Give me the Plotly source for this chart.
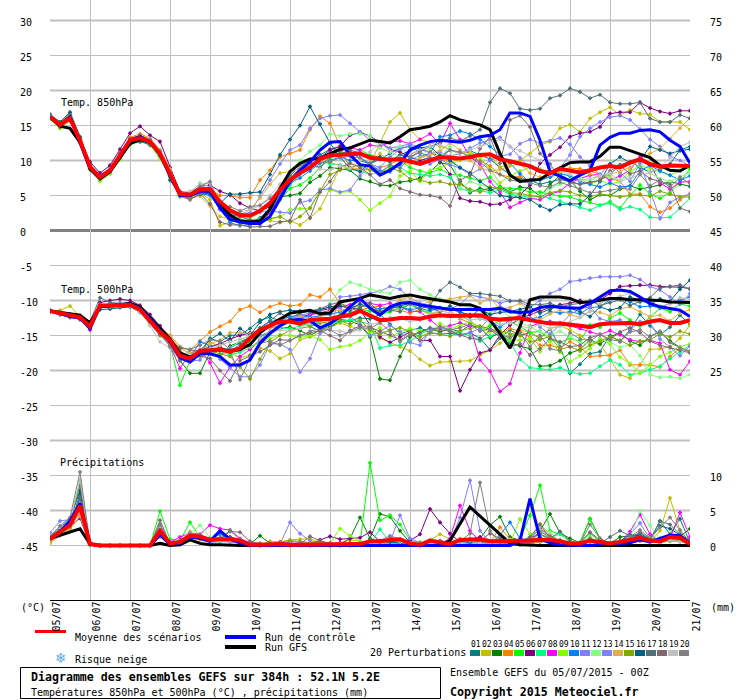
import plotly.graph_objects as go

# one value every 6h, 65 points over 384h
HOURS = list(range(0, 385, 6))

DATE_LABELS = ["05/07", "06/07", "07/07", "08/07", "09/07", "10/07", "11/07", "12/07", "13/07",
               "14/07", "15/07", "16/07", "17/07", "18/07", "19/07", "20/07", "21/07"]
LEFT_TICKS = [30, 25, 20, 15, 10, 5, 0, -5, -10, -15, -20, -25, -30, -35, -40, -45]
RIGHT_TICKS = [75, 70, 65, 60, 55, 50, 45, 40, 35, 30, 25, 10, 5, 0]
MEMBER_IDS = ["01", "02", "03", "04", "05", "06", "07", "08", "09", "10",
              "11", "12", "13", "14", "15", "16", "17", "18", "19", "20"]
MEMBER_COLORS = ["#008080", "#c0c000", "#008000", "#ff8000", "#00ff00", "#800080", "#00ff80", "#ff00ff",
                 "#80ff00", "#0080ff", "#8080ff", "#80ff80", "#8080ff", "#e0b040", "#80a800", "#006080",
                 "#507078", "#806870", "#c0c0c0", "#808080"]

T850_MEAN = [16.2, 15.1, 16.0, 12.9, 9.1, 7.6, 8.6, 10.8, 12.9, 13.2, 12.7, 11.0, 8.2, 5.2, 5.1, 5.9, 5.9,
             4.1, 2.9, 2.2, 2.1, 2.8, 3.9, 5.8, 7.2, 8.2, 9.0, 10.2, 10.7, 10.8, 10.9, 11.0, 10.4, 10.2, 10.1,
             10.2, 9.8, 9.5, 10.0, 10.5, 10.4, 10.3, 10.5, 10.8, 10.9, 10.2, 9.9, 9.6, 9.2, 8.5, 8.2, 8.8, 8.6,
             8.3, 8.6, 9.0, 9.2, 9.0, 9.7, 10.2, 9.5, 9.1, 9.3, 9.3, 9.2]
T850_CTRL = [16.2, 15.0, 16.2, 12.7, 9.0, 7.5, 8.5, 10.6, 12.9, 13.4, 12.7, 10.8, 8.0, 5.0, 5.0, 5.6, 5.6,
             3.2, 1.6, 1.2, 1.0, 1.0, 2.0, 4.5, 7.0, 8.6, 9.8, 11.5, 12.6, 12.7, 10.8, 9.4, 9.2, 7.9, 8.6,
             9.6, 11.5, 12.2, 12.7, 12.9, 12.7, 12.6, 12.9, 13.4, 13.6, 14.4, 16.8, 16.8, 16.3, 12.9, 8.4, 7.7, 7.1,
             7.9, 8.6, 12.2, 13.3, 13.9, 13.9, 14.3, 14.4, 14.1, 12.9, 12.0, 9.6]
T850_GFS = [16.2, 14.9, 14.6, 12.6, 8.8, 7.4, 8.4, 10.4, 12.4, 13.0, 12.7, 10.9, 8.0, 5.1, 5.0, 5.7, 5.7,
            3.8, 2.2, 1.4, 1.2, 1.4, 3.0, 6.0, 8.4, 9.6, 10.2, 10.3, 11.0, 11.6, 11.8, 12.3, 12.9, 12.7, 12.5,
            13.4, 14.4, 14.6, 14.9, 15.5, 16.4, 15.8, 15.4, 15.1, 14.4, 11.0, 7.9, 7.0, 7.2, 7.3, 8.2, 9.0, 9.7,
            9.8, 9.8, 10.6, 11.9, 11.9, 11.4, 10.9, 10.4, 9.3, 8.6, 8.5, 9.3]

T850_P01 = [16.4, 15.3, 16.6, 13.1, 9.2, 7.7, 8.7, 10.9, 13.2, 13.5, 12.8, 11.2, 8.3, 5.3, 5.2, 6.0, 5.8,
            3.4, 1.8, 1.3, 1.2, 1.8, 3.2, 5.5, 7.8, 9.2, 9.9, 10.8, 11.6,
            12.0, 11.2, 10.4, 9.5, 10.2, 11.0, 11.8, 12.0, 11.6, 11.2, 10.6, 11.5,
            11.0, 11.4, 10.8, 10.2, 9.0, 8.0, 7.4, 7.2, 6.6, 6.9, 7.3, 7.0,
            6.6, 6.8, 7.2, 8.0, 9.4, 9.8, 9.0, 8.3, 8.7, 9.5, 11.5, 12.0]
T850_P02 = [16.3, 15.2, 16.3, 12.7, 9.3, 7.6, 8.8, 11.0, 13.0, 13.5, 13.0, 11.1, 8.6, 5.4, 4.8, 5.4, 4.4,
            0.7, 1.2, 1.4, 1.6, 1.6, 1.4, 1.2, 1.4, 0.8, 1.8, 3.1, 6.0,
            9.0, 9.6, 9.2, 9.5, 12.5, 15.5, 16.8, 14.4, 13.0, 12.6, 12.0, 11.6,
            11.0, 11.2, 10.5, 10.8, 9.0, 9.6, 10.0, 11.0, 12.2, 12.7, 14.6, 15.1,
            14.1, 16.0, 16.9, 17.6, 16.5, 17.2, 16.7, 16.6, 15.5, 15.5, 15.5, 14.4]
T850_P03 = [16.1, 14.9, 15.9, 12.6, 8.9, 7.5, 8.4, 10.5, 12.8, 13.1, 12.6, 10.7, 8.1, 5.0, 4.9, 5.5, 5.4,
            3.2, 1.5, 1.1, 1.0, 1.2, 2.6, 4.8, 5.0, 5.3, 6.9, 7.8, 9.0,
            8.8, 8.6, 7.4, 7.0, 6.5, 6.4, 6.9, 7.1, 7.5, 8.4, 9.7, 9.4,
            7.0, 5.4, 6.0, 5.7, 6.3, 5.5, 6.2, 6.0, 4.9, 6.5, 7.9, 7.2,
            5.6, 4.4, 5.1, 5.0, 5.9, 6.4, 5.9, 6.2, 6.5, 7.0, 6.6, 6.3]
T850_P04 = [16.5, 15.4, 16.8, 13.0, 9.3, 7.8, 8.7, 11.0, 13.3, 13.8, 13.2, 11.5, 8.9, 5.6, 5.4, 6.1, 5.9,
            5.0, 5.0, 4.7, 4.7, 7.2, 8.6, 10.5, 11.0, 11.5, 14.4, 16.3, 15.3,
            12.0, 8.8, 8.7, 8.7, 9.0, 9.4, 10.2, 10.8, 11.5, 11.2, 10.2, 9.8,
            10.2, 10.4, 10.0, 9.2, 8.0, 7.6, 7.7, 7.0, 7.4, 7.6, 8.6, 8.9,
            8.8, 8.5, 8.0, 7.6, 7.0, 5.2, 5.2, 3.4, 2.6, 3.2, 4.4, 5.3]
T850_P05 = [16.0, 14.8, 15.8, 12.5, 8.7, 7.2, 8.2, 10.3, 12.4, 12.9, 12.3, 10.5, 7.6, 5.0, 4.8, 5.8, 5.6,
            3.4, 1.9, 1.2, 0.9, 1.0, 2.5, 4.4, 6.0, 6.5, 7.5, 9.0, 10.2,
            11.2, 11.0, 11.5, 10.8, 10.5, 10.2, 10.0, 9.0, 8.5, 8.2, 8.8, 8.0,
            7.9, 7.5, 7.1, 7.6, 6.2, 6.0, 5.9, 5.5, 5.5, 5.2, 4.9, 4.8,
            4.3, 4.0, 3.6, 4.1, 3.2, 5.0, 6.5, 5.2, 4.6, 5.4, 6.9, 8.8]
T850_P06 = [16.4, 15.4, 16.5, 13.2, 9.8, 8.2, 9.3, 11.6, 13.9, 14.9, 13.6, 12.7, 9.0, 5.5, 5.4, 6.3, 6.5,
            5.6, 5.1, 3.9, 3.2, 2.8, 3.4, 5.3, 7.0, 8.2, 9.0, 10.4, 11.5,
            12.0, 13.6, 14.0, 13.5, 12.5, 11.6, 11.2, 10.5, 10.0, 10.4, 10.0, 8.0,
            4.6, 4.2, 4.1, 3.7, 3.8, 4.4, 5.1, 6.5, 9.6, 10.8, 11.9, 13.4,
            13.9, 14.1, 14.8, 16.7, 16.9, 16.9, 18.3, 17.5, 17.0, 16.7, 17.1, 17.1]
T850_P07 = [16.2, 15.0, 16.1, 12.8, 9.1, 7.4, 8.5, 10.6, 12.7, 13.0, 12.5, 10.9, 8.0, 5.1, 5.1, 6.0, 6.0,
            3.6, 2.0, 1.4, 1.2, 1.6, 3.0, 5.0, 6.5, 8.0, 9.5, 10.0, 9.5,
            9.4, 8.8, 8.5, 8.0, 8.4, 9.2, 9.0, 8.2, 8.0, 7.8, 8.0, 7.6,
            6.0, 5.6, 5.7, 5.4, 5.8, 5.2, 5.0, 4.7, 5.0, 4.6, 4.2, 3.8,
            3.3, 2.9, 3.6, 3.9, 3.0, 3.4, 3.0, 1.9, 1.8, 1.9, 3.2, 4.6]
T850_P08 = [16.1, 14.9, 15.7, 12.7, 8.8, 7.2, 8.2, 10.2, 12.3, 12.8, 12.4, 10.6, 7.9, 5.1, 4.9, 5.5, 5.2,
            3.1, 1.8, 1.3, 1.0, 1.2, 2.5, 5.0, 7.0, 9.0, 9.8, 10.5, 11.0,
            11.4, 11.8, 11.5, 12.2, 12.0, 12.6, 12.8, 12.4, 13.0, 13.8, 12.4, 15.3,
            13.0, 10.5, 9.5, 7.0, 5.5, 3.3, 4.0, 4.6, 4.4, 5.2, 5.6, 6.8,
            7.4, 7.9, 8.0, 7.2, 7.8, 8.6, 10.5, 9.5, 6.8, 5.9, 6.9, 7.0]
T850_P09 = [15.9, 14.6, 15.7, 12.6, 8.8, 7.0, 8.1, 10.1, 12.2, 12.7, 12.2, 10.2, 7.8, 4.8, 5.0, 5.9, 5.8,
            3.4, 1.9, 1.4, 1.2, 1.4, 1.6, 1.9, 3.0, 3.1, 3.2, 5.9, 5.8,
            5.4, 5.6, 4.4, 2.9, 3.9, 4.9, 7.8, 8.5, 7.0, 8.6, 9.0, 9.5,
            10.0, 11.0, 10.5, 8.7, 6.8, 7.8, 8.5, 9.0, 8.8, 8.5, 8.2, 7.8,
            7.4, 6.6, 7.2, 6.6, 7.0, 8.5, 9.2, 8.9, 8.4, 7.9, 8.6, 9.2]
T850_P10 = [16.3, 15.1, 16.2, 13.0, 9.0, 7.6, 8.6, 10.7, 13.0, 13.2, 12.6, 11.0, 8.4, 5.2, 5.0, 5.3, 5.0,
            3.0, 1.1, 0.7, 0.8, 1.1, 2.8, 5.3, 6.8, 7.5, 8.5, 9.6, 10.0,
            10.5, 10.0, 10.0, 9.5, 8.5, 8.4, 9.4, 10.2, 10.6, 11.0, 13.4, 13.6,
            14.2, 13.8, 13.0, 12.0, 10.8, 9.6, 8.1, 6.9, 7.2, 7.6, 8.1, 7.8,
            7.0, 6.6, 6.2, 6.8, 6.2, 6.4, 8.5, 9.3, 8.5, 7.9, 7.2, 7.8]
T850_P11 = [16.2, 15.2, 16.4, 12.9, 9.2, 7.7, 8.8, 10.9, 13.0, 13.4, 13.0, 11.3, 8.5, 5.3, 5.3, 6.2, 6.1,
            3.4, 2.6, 2.0, 2.5, 4.9, 7.2, 9.5, 11.5, 12.2, 14.6, 16.0, 16.4,
            16.5, 15.3, 14.1, 12.9, 12.5, 11.8, 12.0, 12.4, 11.8, 11.0, 11.2, 10.6,
            11.0, 11.8, 12.5, 12.9, 13.3, 12.0, 10.4, 9.0, 8.6, 8.4, 8.9, 10.8,
            13.4, 14.6, 15.5, 16.2, 16.4, 15.8, 14.5, 13.0, 12.0, 10.6, 10.0, 9.2]
T850_P12 = [16.0, 14.9, 16.0, 12.8, 9.0, 7.3, 8.4, 10.4, 12.6, 13.1, 12.5, 10.4, 7.7, 4.9, 5.3, 6.8, 6.2,
            3.4, 1.8, 1.6, 1.7, 2.6, 3.0, 6.0, 8.5, 10.0, 11.3, 12.2, 13.8,
            13.5, 13.8, 13.8, 13.5, 11.8, 11.2, 12.0, 10.5, 10.4, 11.8, 10.4, 12.0,
            5.9, 7.0, 6.5, 6.2, 6.0, 5.5, 4.6, 4.8, 5.0, 6.0, 6.6, 7.2,
            7.5, 7.0, 8.0, 7.6, 7.2, 7.9, 9.8, 8.2, 7.4, 7.0, 7.7, 8.3]
T850_P13 = [16.3, 15.2, 16.2, 13.0, 9.1, 7.6, 8.5, 10.6, 12.9, 13.3, 12.9, 11.2, 8.3, 5.3, 5.2, 6.1, 6.2,
            3.0, 2.4, 2.4, 2.5, 2.6, 2.8, 2.6, 2.5, 4.0, 4.3, 5.8, 6.0,
            5.5, 5.8, 7.8, 9.5, 9.0, 10.5, 11.6, 12.2, 11.0, 9.5, 10.2, 9.4,
            8.9, 8.0, 8.8, 10.0, 10.6, 10.9, 12.4, 13.0, 12.5, 12.8, 13.2, 12.3,
            10.5, 9.2, 8.0, 9.5, 8.2, 7.0, 9.6, 5.6, 1.7, 4.0, 4.8, 5.2]
T850_P14 = [16.5, 15.5, 16.6, 13.2, 9.2, 7.8, 8.6, 10.7, 12.9, 13.6, 13.1, 11.3, 8.8, 5.2, 4.6, 4.9, 3.5,
            2.0, 1.6, 2.0, 3.0, 4.6, 6.6, 8.2, 8.4, 8.8, 9.4, 10.0, 9.8,
            9.2, 9.0, 8.8, 9.4, 11.0, 10.0, 9.8, 9.5, 10.4, 10.8, 11.4, 12.5,
            11.5, 10.0, 9.0, 8.5, 8.7, 9.2, 9.5, 8.2, 7.6, 8.0, 8.4, 8.8,
            8.4, 8.1, 7.5, 8.0, 8.4, 9.0, 10.0, 11.0, 11.7, 13.1, 14.6, 16.1]
T850_P15 = [16.1, 14.7, 16.1, 12.5, 8.9, 7.4, 8.3, 10.4, 12.7, 13.0, 12.4, 10.6, 7.9, 5.0, 4.7, 5.6, 5.5,
            3.5, 1.9, 1.0, 0.9, 1.0, 1.7, 2.0, 1.2, 2.0, 3.2, 5.5, 8.0,
            8.6, 9.0, 9.4, 8.6, 8.2, 8.9, 8.5, 7.4, 7.2, 6.8, 7.0, 6.6,
            6.6, 5.9, 5.5, 6.2, 6.0, 5.4, 5.3, 5.0, 4.8, 5.4, 5.7, 5.5,
            5.0, 4.8, 5.2, 5.0, 4.8, 5.0, 5.1, 4.9, 5.6, 5.2, 4.8, 4.8]
T850_P16 = [16.6, 15.5, 16.9, 13.4, 9.4, 7.9, 8.9, 11.0, 12.6, 12.7, 12.4, 11.1, 7.2, 5.1, 4.5, 5.2, 5.3,
            3.9, 5.2, 5.2, 5.4, 5.5, 8.0, 10.8, 13.0, 15.0, 17.7, 15.2, 12.5,
            10.5, 8.9, 8.4, 9.6, 10.5, 9.9, 10.8, 11.4, 11.8, 12.0, 10.7, 10.0,
            9.0, 8.2, 7.0, 6.0, 5.0, 4.8, 4.7, 4.4, 3.5, 2.9, 3.7, 3.8,
            3.8, 5.0, 7.0, 9.5, 10.5, 9.7, 10.0, 12.0, 11.5, 11.0, 11.4, 11.6]
T850_P17 = [16.4, 15.3, 16.5, 13.1, 9.0, 7.5, 8.6, 10.8, 12.4, 12.8, 12.2, 10.8, 8.0, 5.2, 5.1, 5.7, 5.7,
            3.4, 2.3, 2.0, 1.5, 1.0, 3.0, 5.5, 7.0, 8.5, 9.5, 9.0, 10.6,
            10.9, 11.5, 11.0, 10.5, 10.2, 9.8, 10.8, 10.5, 11.3, 12.0, 12.5, 13.2,
            12.8, 13.5, 14.4, 18.3, 20.3, 19.6, 17.4, 17.2, 17.4, 18.9, 19.3, 20.3,
            19.8, 18.9, 19.4, 18.3, 18.1, 18.1, 18.3, 16.0, 15.5, 15.5, 16.5, 16.0]
T850_P18 = [16.3, 15.0, 16.3, 12.9, 8.9, 7.6, 8.7, 10.7, 13.1, 13.6, 12.9, 11.2, 8.0, 4.9, 4.4, 5.3, 3.8,
            1.2, 0.8, 0.8, 0.5, 0.6, 0.6, 1.2, 1.4, 4.4, 1.8, 5.5, 7.0,
            9.0, 9.6, 9.0, 8.0, 6.6, 7.2, 6.0, 5.5, 5.1, 5.0, 4.7, 3.5,
            7.2, 7.9, 11.7, 13.4, 9.6, 15.8, 16.4, 14.8, 11.0, 9.5, 7.4, 6.9,
            6.6, 6.9, 7.2, 8.5, 9.3, 8.1, 8.5, 7.4, 7.0, 6.6, 3.2, 2.7]
T850_P19 = [16.2, 15.1, 16.1, 12.8, 9.2, 7.7, 8.8, 10.9, 12.7, 13.2, 13.1, 11.4, 8.6, 5.4, 5.6, 6.6, 6.8,
            3.6, 2.6, 2.6, 3.0, 3.5, 5.0, 6.6, 8.2, 9.0, 9.4, 8.8, 8.6,
            9.2, 8.9, 10.0, 11.2, 12.5, 11.4, 10.4, 11.0, 11.5, 12.0, 12.2, 11.6,
            11.0, 11.5, 12.0, 12.6, 13.0, 12.0, 11.4, 10.7, 10.0, 9.0, 8.5, 8.0,
            7.2, 7.4, 7.8, 8.2, 7.0, 7.5, 8.0, 8.2, 9.0, 10.4, 12.0, 12.6]
T850_P20 = [16.2, 15.0, 16.0, 12.7, 9.0, 7.5, 8.6, 10.7, 12.9, 13.3, 13.0, 11.3, 8.5, 5.0, 4.5, 6.3, 7.0,
            3.8, 3.4, 2.8, 3.4, 3.6, 4.6, 6.0, 7.6, 8.8, 9.6, 9.7, 9.8,
            10.4, 10.6, 10.4, 9.6, 8.2, 9.4, 8.9, 10.4, 11.2, 10.4, 10.2, 11.5,
            11.2, 10.6, 9.8, 8.6, 8.0, 7.2, 7.0, 6.8, 6.4, 6.2, 6.9, 6.4,
            6.0, 5.4, 5.5, 5.7, 6.0, 5.9, 8.0, 6.4, 7.2, 6.2, 7.6, 6.7]

T500_MEAN = [-11.5, -11.8, -12.2, -12.4, -13.7, -10.7, -10.7, -10.6, -10.6, -11.3, -12.8, -14.5, -15.7, -17.9,
             -18.3, -17.2, -17.1, -17.0, -17.3, -16.8, -15.4, -14.2, -13.6, -13.0, -13.0, -13.3, -12.8, -12.7,
             -12.6, -12.3, -12.1, -11.5, -12.1, -12.8, -12.7, -12.5, -12.5, -12.6, -12.3, -12.1, -12.2, -12.2,
             -12.2, -12.1, -12.6, -12.7, -12.6, -12.5, -12.8, -13.1, -13.3, -13.3, -13.4, -13.6, -13.8, -13.4,
             -13.3, -13.2, -13.2, -13.4, -13.0, -12.8, -13.2, -13.2, -12.8]
T500_CTRL = [-11.5, -11.9, -12.3, -12.5, -14.0, -10.8, -10.7, -10.5, -10.5, -11.1, -12.6, -14.3, -15.9, -18.2,
             -18.8, -17.6, -17.6, -18.0, -19.2, -19.2, -18.5, -16.1, -14.7, -13.6, -12.8, -12.7, -12.9, -13.9,
             -13.3, -12.3, -10.9, -9.7, -11.1, -12.1, -10.9, -10.4, -10.3, -10.6, -10.8, -11.1, -11.3, -11.3,
             -11.3, -11.3, -11.3, -11.1, -11.6, -11.7, -11.6, -11.0, -10.8, -11.0, -11.1, -11.1, -10.4, -9.5,
             -8.6, -8.5, -8.7, -9.5, -10.4, -10.9, -11.1, -11.4, -12.3]
T500_GFS = [-11.5, -11.7, -12.0, -12.1, -13.2, -10.9, -10.8, -10.6, -10.4, -10.9, -12.4, -14.0, -15.5, -17.5,
            -18.1, -17.3, -17.2, -17.0, -17.2, -17.0, -16.3, -14.6, -13.5, -12.7, -11.8, -11.6, -11.4, -11.9,
            -11.8, -10.2, -9.9, -9.7, -9.2, -9.5, -9.7, -9.4, -9.2, -9.5, -9.7, -9.9, -10.2, -10.6,
            -10.6, -11.1, -12.8, -14.7, -16.8, -13.7, -9.9, -9.5, -9.5, -9.5, -9.7, -10.3, -10.2, -9.9,
            -9.7, -9.7, -9.9, -9.9, -9.9, -10.0, -10.2, -10.2, -10.3]

T500_P01 = [-11.4, -11.8, -12.3, -12.6, -13.9, -10.9, -10.9, -10.7, -10.8, -11.6, -13.0, -14.8, -15.9, -17.6,
            -18.6, -17.6, -15.4,
            -15.9, -15.0, -14.9, -14.0, -12.8, -12.4, -12.9, -12.8, -13.0, -13.7, -14.4, -14.0,
            -12.7, -12.9, -12.5, -12.6, -12.0, -13.4, -14.8, -14.3, -13.9, -14.6, -14.8, -14.7,
            -14.9, -14.6, -15.4, -17.0, -15.4, -14.2, -15.0, -14.6, -15.4, -14.1, -16.6, -20.4,
            -19.1, -17.6, -17.3, -15.0, -15.9, -14.2, -12.0, -13.6, -14.9, -13.8, -12.1, -13.5]
T500_P02 = [-11.5, -11.4, -10.8, -12.3, -13.6, -10.9, -10.8, -10.7, -10.8, -11.4, -12.7, -14.6, -15.8, -17.5,
            -18.0, -17.7, -16.0,
            -16.5, -17.4, -18.2, -17.8, -16.8, -17.2, -18.3, -17.6, -15.6, -15.2, -14.5, -13.9,
            -13.2, -13.7, -14.0, -14.3, -15.4, -16.0, -16.6, -17.2, -18.4, -19.3, -18.8, -18.7,
            -18.7, -18.6, -17.8, -17.1, -16.1, -15.0, -14.2, -14.6, -15.3, -14.0, -13.6, -14.2,
            -15.0, -15.9, -16.2, -18.5, -20.6, -21.1, -19.2, -17.0, -16.9, -16.6, -15.4, -13.5]
T500_P03 = [-11.6, -12.0, -12.4, -12.5, -13.8, -10.9, -10.8, -10.6, -10.7, -11.2, -12.5, -14.2, -15.4, -18.6,
            -20.4, -20.4, -17.4,
            -17.9, -16.5, -15.9, -15.3, -15.1, -14.7, -14.0, -13.8, -14.3, -15.0, -14.2, -13.7,
            -13.0, -12.9, -13.5, -15.2, -21.2, -21.4, -18.0, -15.2, -14.4, -14.0, -14.5, -14.0,
            -14.5, -13.5, -13.9, -15.3, -14.6, -16.0, -16.5, -16.9, -19.4, -19.3, -18.6, -17.5,
            -17.0, -15.6, -16.2, -15.2, -14.6, -15.8, -16.4, -15.1, -14.5, -15.8, -16.7, -17.4]
T500_P04 = [-11.5, -11.9, -12.2, -12.3, -13.5, -10.8, -10.6, -10.5, -10.5, -11.2, -12.6, -13.8, -15.0, -16.6,
            -17.1, -15.8, -14.5,
            -13.7, -13.0, -11.3, -10.8, -11.7, -10.9, -10.4, -10.8, -10.6, -9.2, -9.5, -8.4,
            -10.4, -10.9, -11.4, -11.0, -10.8, -11.2, -11.4, -11.8, -11.3, -12.0, -11.6, -11.4,
            -12.6, -13.2, -13.7, -14.0, -14.8, -14.0, -14.4, -15.2, -16.4, -16.4, -16.8, -15.9,
            -16.6, -18.0, -17.9, -17.8, -17.1, -19.2, -19.2, -19.2, -19.5, -18.0, -16.8, -17.3]
T500_P05 = [-11.4, -11.7, -12.1, -12.3, -13.4, -10.8, -10.7, -10.6, -10.7, -11.2, -12.7, -14.4, -16.2, -22.1,
            -18.6, -17.4, -17.0,
            -16.8, -17.5, -17.2, -16.0, -15.1, -14.7, -13.8, -13.0, -13.2, -13.4, -12.6, -12.6,
            -12.0, -11.8, -11.2, -11.5, -12.0, -11.6, -11.0, -10.6, -11.3, -11.8, -12.2, -12.0,
            -12.3, -12.8, -14.2, -13.6, -12.9, -13.0, -13.7, -14.6, -14.4, -15.6, -16.0, -15.4,
            -15.8, -13.5, -13.8, -12.5, -11.8, -12.8, -13.6, -12.4, -11.1, -11.6, -10.5, -10.8]
T500_P06 = [-11.5, -11.9, -12.4, -12.7, -13.9, -10.3, -10.0, -9.8, -10.0, -10.7, -12.0, -13.6, -15.3, -17.6,
            -18.4, -17.2, -16.6,
            -16.2, -15.5, -15.0, -14.6, -14.2, -13.9, -13.7, -13.0, -12.4, -12.0, -11.4, -11.2,
            -10.8, -11.0, -11.3, -13.5, -15.2, -16.0, -15.2, -14.5, -15.7, -15.7, -18.0, -18.0,
            -22.9, -19.9, -17.5, -17.1, -14.9, -13.5, -12.6, -12.0, -11.5, -11.0, -10.6, -10.4,
            -10.0, -10.6, -9.9, -9.0, -8.0, -7.9, -7.8, -7.8, -8.0, -8.0, -8.1, -8.3]
T500_P07 = [-11.5, -11.8, -12.1, -12.2, -13.6, -10.8, -10.8, -10.7, -10.7, -11.3, -12.9, -14.7, -16.0, -18.0,
            -18.5, -17.5, -17.0,
            -17.2, -17.8, -17.4, -16.8, -15.6, -14.8, -13.9, -14.0, -13.6, -13.3, -13.1, -13.4,
            -13.0, -12.8, -13.0, -13.4, -16.8, -16.4, -16.4, -15.8, -14.9, -14.0, -13.9, -14.4,
            -14.6, -15.0, -15.8, -15.1, -14.4, -15.9, -18.4, -19.6, -19.8, -19.9, -19.6, -20.2,
            -20.5, -20.4, -19.4, -18.5, -19.2, -20.6, -20.4, -19.9, -19.4, -18.3, -17.4, -16.4]
T500_P08 = [-11.5, -11.8, -12.2, -12.5, -14.2, -10.8, -10.8, -10.6, -10.7, -11.5, -13.1, -14.9, -16.4, -19.7,
            -17.5, -17.0, -18.9,
            -21.8, -19.5, -18.0, -17.0, -15.8, -14.5, -13.6, -13.0, -12.5, -12.1, -11.8, -11.4,
            -11.0, -10.6, -10.1, -10.4, -10.7, -10.4, -10.9, -11.5, -11.6, -12.8, -13.9, -13.6,
            -13.2, -13.7, -18.5, -20.1, -23.0, -21.9, -17.5, -13.7, -13.2, -13.0, -13.2, -13.6,
            -14.0, -14.5, -14.9, -14.3, -14.9, -15.6, -15.9, -15.7, -16.1, -19.9, -20.6, -18.7]
T500_P09 = [-11.6, -11.8, -12.2, -12.3, -13.6, -11.0, -10.9, -10.8, -10.9, -11.7, -13.4, -14.9, -16.3, -17.9,
            -18.4, -18.0, -17.3,
            -17.2, -16.9, -16.8, -16.6, -16.0, -15.4, -14.9, -15.0, -15.3, -15.0, -15.6, -17.0,
            -16.6, -16.4, -15.7, -14.6, -13.9, -15.2, -14.5, -14.0, -14.3, -14.6, -13.3, -14.0,
            -13.6, -13.0, -13.9, -14.5, -14.2, -15.6, -15.7, -15.4, -17.3, -15.8, -17.4, -18.8,
            -17.9, -16.9, -15.4, -16.2, -18.1, -19.0, -20.4, -19.2, -18.0, -17.4, -16.6, -16.2]
T500_P10 = [-11.5, -12.0, -12.4, -12.7, -14.0, -10.9, -10.8, -10.7, -10.7, -11.0, -12.4, -14.5, -16.0, -17.6,
            -18.2, -15.9, -16.4,
            -17.2, -16.8, -16.0, -15.4, -14.0, -13.0, -12.8, -12.3, -12.1, -12.4, -12.2, -12.0,
            -11.6, -11.1, -10.6, -10.9, -11.2, -11.0, -10.9, -11.3, -11.1, -11.5, -11.0, -11.2,
            -11.7, -12.0, -12.6, -13.0, -13.8, -12.8, -12.0, -12.6, -12.4, -11.6, -11.8, -11.6,
            -11.9, -11.0, -10.9, -9.9, -9.6, -10.2, -10.9, -10.8, -11.0, -10.4, -9.9, -9.5]
T500_P11 = [-11.5, -11.8, -12.2, -12.5, -13.8, -10.7, -10.6, -10.5, -10.7, -11.4, -13.1, -14.8, -16.4, -18.2,
            -18.7, -18.5, -16.9,
            -18.4, -19.6, -20.9, -20.9, -19.2, -16.2, -16.2, -17.0, -20.2, -18.3, -14.7, -14.0,
            -9.5, -9.4, -9.2, -9.0, -8.7, -8.0, -8.4, -9.6, -10.4, -11.0, -11.4, -11.2,
            -10.6, -9.2, -9.5, -9.8, -10.4, -10.0, -10.2, -11.0, -10.0, -9.0, -8.4, -7.3,
            -7.1, -6.8, -6.6, -6.6, -6.6, -6.4, -7.0, -8.0, -8.5, -9.5, -10.5, -9.0]
T500_P12 = [-11.4, -11.7, -12.0, -12.2, -13.4, -10.8, -10.7, -10.5, -10.5, -11.1, -12.7, -14.4, -15.6, -17.6,
            -18.1, -17.6, -17.3,
            -18.0, -16.8, -15.8, -14.8, -14.0, -13.5, -13.0, -12.6, -12.3, -13.6, -13.7, -10.4,
            -8.5, -7.4, -7.8, -8.4, -8.7, -9.0, -7.4, -7.1, -8.4, -9.2, -9.8, -10.0,
            -10.6, -11.0, -11.4, -11.8, -11.2, -12.4, -13.1, -13.8, -14.5, -14.9, -14.4, -15.2,
            -16.0, -16.2, -15.6, -15.9, -16.7, -16.3, -17.9, -20.6, -21.0, -20.9, -21.1, -20.6]
T500_P13 = [-11.5, -11.9, -12.2, -12.4, -13.7, -10.9, -10.9, -10.8, -10.9, -11.7, -13.3, -15.0, -16.1, -18.1,
            -18.3, -17.8, -17.6,
            -17.0, -16.8, -17.0, -16.4, -15.0, -14.5, -13.4, -12.8, -12.1, -11.8, -11.4, -10.9,
            -11.1, -12.2, -13.4, -15.0, -14.4, -13.6, -14.4, -16.0, -16.4, -14.4, -13.8, -14.2,
            -15.0, -14.6, -14.0, -12.4, -10.9, -11.4, -12.0, -12.5, -13.8, -14.8, -13.5, -12.0,
            -11.2, -10.9, -12.6, -13.0, -12.8, -14.2, -13.0, -13.2, -15.5, -16.7, -17.9, -16.5]
T500_P14 = [-11.6, -11.8, -12.1, -12.3, -13.3, -10.9, -10.8, -10.7, -10.6, -10.9, -12.5, -14.0, -15.2, -16.9,
            -17.5, -17.1, -16.2,
            -15.7, -14.6, -14.6, -14.8, -14.2, -14.0, -13.6, -13.2, -12.2, -12.6, -12.4, -11.6,
            -11.4, -11.1, -10.8, -11.0, -11.6, -10.9, -9.9, -9.5, -10.6, -10.2, -10.0, -9.8,
            -9.6, -9.3, -10.4, -9.6, -11.2, -11.0, -10.4, -11.4, -12.8, -11.9, -11.4, -12.0,
            -12.4, -11.5, -11.7, -12.2, -11.2, -10.9, -11.6, -12.3, -12.1, -12.9, -11.8, -11.3]
T500_P15 = [-11.5, -11.9, -12.3, -12.4, -13.6, -11.0, -11.0, -10.8, -10.9, -11.6, -13.2, -15.0, -16.3, -18.3,
            -18.7, -17.9, -17.2,
            -17.6, -18.0, -19.5, -21.2, -18.4, -16.0, -15.0, -14.3, -14.0, -13.7, -13.2, -13.1,
            -12.9, -13.4, -12.8, -14.2, -14.8, -14.2, -13.9, -14.4, -15.2, -14.6, -14.8, -15.1,
            -14.3, -14.0, -13.7, -14.1, -14.4, -14.8, -15.0, -15.9, -15.6, -15.1, -17.0, -16.6,
            -17.2, -16.4, -15.8, -15.2, -15.7, -16.4, -15.8, -15.6, -14.8, -15.2, -14.4, -14.8]
T500_P16 = [-11.4, -11.7, -12.0, -12.2, -13.5, -11.3, -11.2, -11.0, -10.9, -11.0, -12.6, -13.9, -15.8, -17.4,
            -18.0, -17.2, -15.6,
            -14.7, -15.8, -14.0, -15.0, -13.1, -12.0, -11.6, -11.4, -11.5, -11.6, -11.3, -10.9,
            -10.7, -11.2, -10.5, -11.1, -11.6, -11.2, -10.8, -10.4, -10.8, -11.2, -11.5, -10.8,
            -11.5, -12.4, -11.2, -12.0, -11.7, -11.6, -11.3, -10.9, -11.8, -11.3, -10.7, -11.1,
            -11.6, -12.3, -10.9, -11.4, -11.0, -9.5, -10.0, -10.5, -9.8, -10.1, -8.4, -7.1]
T500_P17 = [-11.5, -11.8, -12.2, -12.4, -13.0, -9.6, -10.3, -10.4, -10.5, -11.3, -12.7, -14.4, -15.7, -16.8,
            -17.0, -17.4, -17.2,
            -16.6, -17.4, -16.2, -15.0, -13.9, -12.9, -11.8, -12.6, -11.8, -11.5, -11.2, -10.6,
            -10.2, -11.5, -11.0, -10.4, -11.7, -11.4, -11.6, -10.4, -11.2, -10.7, -8.6, -7.4,
            -8.1, -9.0, -9.0, -9.2, -9.4, -10.1, -10.0, -10.6, -10.6, -10.4, -10.9, -10.6,
            -10.4, -10.0, -10.7, -10.3, -9.9, -10.7, -10.2, -9.6, -8.2, -8.0, -7.8, -8.4]
T500_P18 = [-11.6, -12.0, -12.3, -12.5, -13.8, -11.0, -10.9, -10.8, -10.8, -11.5, -13.0, -14.9, -16.0, -17.3,
            -18.0, -17.9, -18.3,
            -20.0, -21.5, -18.6, -17.9, -17.3, -16.4, -15.6, -15.7, -15.0, -14.6, -14.3, -15.0,
            -15.7, -14.3, -13.6, -13.8, -14.4, -14.9, -15.6, -15.0, -14.6, -13.9, -14.2, -14.4,
            -14.9, -15.4, -15.6, -14.2, -15.2, -16.6, -16.2, -17.8, -16.9, -15.4, -15.9, -16.6,
            -16.4, -15.3, -14.9, -15.6, -14.5, -13.9, -14.6, -15.8, -16.4, -16.7, -17.1, -17.5]
T500_P19 = [-11.5, -11.9, -12.1, -12.3, -13.7, -10.9, -10.9, -10.7, -10.8, -11.6, -13.6, -15.9, -16.8, -18.0,
            -17.8, -17.4, -16.9,
            -16.4, -15.9, -15.5, -15.1, -15.4, -14.6, -14.2, -14.4, -14.0, -13.2, -12.9, -14.2,
            -14.4, -14.6, -14.2, -13.4, -13.2, -12.4, -12.6, -13.0, -12.8, -11.9, -11.4, -11.8,
            -12.3, -12.8, -12.6, -13.0, -13.4, -13.2, -13.6, -14.0, -13.4, -14.0, -13.7, -13.1,
            -12.4, -11.6, -10.4, -9.8, -9.4, -9.0, -9.6, -10.2, -10.8, -10.5, -9.6, -9.8]
T500_P20 = [-11.5, -11.8, -12.2, -12.5, -13.7, -10.6, -10.5, -10.5, -10.7, -11.3, -12.9, -14.6, -16.6, -18.5,
            -17.0, -16.4, -15.6,
            -15.8, -17.0, -21.3, -18.2, -16.1, -15.8, -16.4, -15.7, -15.0, -14.4, -14.0, -14.2,
            -15.0, -14.4, -13.9, -14.0, -13.2, -14.4, -15.9, -14.8, -15.7, -14.6, -13.7, -14.2,
            -13.9, -13.4, -14.4, -14.0, -14.9, -15.3, -14.6, -16.6, -15.0, -16.9, -17.2, -14.6,
            -15.5, -15.8, -14.8, -15.6, -15.8, -14.5, -14.2, -15.2, -14.4, -16.0, -16.8, -17.2]

PRECIP_MEAN = [0.9, 1.9, 2.9, 5.7, 0.2, 0, 0, 0, 0, 0, 0, 2.1, 0.3, 0.5, 1.4, 1.3, 0.8,
               0.9, 0.9, 0.7, 0.1, 0.1, 0.2, 0.2, 0.1, 0.1, 0.1, 0.1, 0.1, 0.1, 0.1, 0.2, 0.6, 0.6, 0.8,
               0.9, 0.3, 0.1, 0.7, 0.5, 0.2, 0.8, 0.9, 0.9, 0.6, 0.6, 0.7, 0.7, 0.7, 0.8, 0.8, 0.6, 0.3,
               0.3, 0.7, 0.5, 0.3, 0.5, 0.8, 1.1, 0.7, 0.6, 1.2, 1.1, 0.2]
PRECIP_CTRL = [1.0, 2.0, 3.5, 6.0, 0.2, 0, 0, 0, 0, 0, 0, 1.5, 0.2, 0.3, 1.2, 1.0, 0.6,
               2.1, 0.9, 0.4, 0, 0, 0, 0, 0, 0, 0, 0, 0, 0, 0, 0, 0, 0, 0,
               0, 0, 0, 0, 0, 0, 0, 0, 0, 0, 0, 0, 0.7, 6.7, 0.9, 0.4, 0.1, 0,
               0, 0, 0.2, 0.3, 0.3, 0.4, 0.8, 0.5, 1.0, 1.5, 1.4, 0.3]
PRECIP_GFS = [1.0, 1.5, 2.0, 2.4, 0.2, 0, 0, 0, 0, 0, 0, 0.3, 0, 0.1, 0.8, 0.3, 0.1,
              0.1, 0, 0, 0, 0, 0, 0, 0, 0, 0, 0, 0, 0, 0, 0, 0, 0, 0,
              0, 0, 0, 0, 0, 0.7, 3.1, 5.5, 4.2, 2.9, 1.5, 0.3, 0.1, 0, 0, 0, 0, 0,
              0, 0, 0, 0, 0, 0, 0, 0, 0, 0, 0, 0]

PRECIP_P01 = [1.1, 2.2, 3.0, 6.5, .3, 0, 0, 0, 0, 0, 0, 2.5, .3, .4, 1.5, 1.2, .7,
              .9, .7, .6, .1, 0, .1, 0, 0, .2, 0, .1, 0, 0, 0, .2, .5, .4, .3, .7, .1, 0, .3, .4, .2, .4, .3, .6,
              .5, .2, .3, .1, .4, .5, .6, .3, .2, .3, .7, .4, .2, .3, .5, 1.0, .7, 3.5, 1.6, 3.8, .4]
PRECIP_P02 = [1.2, 2.4, 3.2, 5.0, .2, 0, 0, 0, 0, 0, 0, 1.9, .2, .3, 1.7, .9, 1.0,
              .8, .9, .5, 0, .1, .6, .5, .8, .9, 1.0, .4, .3, .4, .8, .6, .2, .4, .3, .3, .5, .2, .8, 1.6, .9, .6, .7, 1.2,
              .6, .5, .4, .8, .9, 3.1, 1.5, .6, .3, .4, .8, .2, .1, .3, .5, 1.0, .5, 2.1, 6.8, 2.1, .4]
PRECIP_P03 = [.7, 1.6, 2.4, 7.4, .2, 0, 0, 0, 0, 0, 0, 1.8, .4, .4, 1.2, 1.5, .5,
              .6, .6, .4, .2, 1.4, .3, .1, .2, .3, .2, .1, .1, .2, 1.0, 4.0, 1.0, 4.5, 4.1, 2.1, .4, .2, .3, .2, .1, .7, .5, 1.0,
              2.9, 4.1, 1.2, .7, .5, 2.1, 4.5, 1.8, 1.0, .4, 3.8, 1.0, .3, 1.2, 1.4, 1.6, .8, 1.0, .6, 1.3, 2.4]
PRECIP_P04 = [.5, 1.7, 2.6, 4.7, .1, 0, 0, 0, 0, 0, 0, 1.7, .1, .8, 1.6, 1.0, .5,
              .8, .7, .3, 0, .1, .2, .1, .1, 0, .1, .2, .1, 0, .1, .1, .4, .2, .3, .2, .1, .2, .4, .3, .2, 1.0, .5, .8,
              .4, 2.6, .9, .4, .2, .6, 1.0, .8, .4, .3, 1.8, .6, .2, .4, .8, 1.4, .6, .5, 1.0, .7, .3]
PRECIP_P05 = [1.0, 2.0, 3.4, 9.2, .4, 0, 0, 0, 0, 0, 0, 4.9, .9, .7, 3.3, 1.2, .6,
              .7, .6, .4, .1, .2, 0, .1, 0, .1, .2, .1, .3, .1, .2, .2, 11.8, 3.6, 4.3, 3.0, .8, .3, .5, .2, .3, .6, .4, .7,
              .6, .5, .4, 1.0, 4.3, 8.6, 2.1, 1.6, .6, .4, 3.8, .9, .3, .6, 1.0, 1.5, 1.1, .7, .9, .8, .5]
PRECIP_P06 = [.9, 1.8, 2.8, 3.9, .2, 0, 0, 0, 0, 0, 0, 3.0, .3, .3, 1.0, 1.4, .9,
              .8, 1.2, .9, .1, .1, .2, .5, .3, .2, .1, .8, 1.3, .9, 1.0, 1.1, 1.9, .6, .7, .5, .7, 1.6, 5.2, 3.3, 1.7, .5, .9, 1.2,
              .4, .3, .6, .4, .7, 1.0, .8, .4, .2, .2, .5, .3, .2, .4, .8, .7, .5, .4, 1.0, .8, .2]
PRECIP_P07 = [1.2, 2.1, 3.6, 8.1, .3, 0, 0, 0, 0, 0, 0, 2.4, .1, .6, 1.4, 1.1, .6,
              .5, .6, .4, .1, 0, .1, .2, .1, .1, 0, .1, .2, .1, .2, .1, .3, 2.3, .5, .4, .3, .2, .6, .4, .2, .5, .4, .3,
              .5, .7, .4, .6, 1.2, 2.4, 1.0, 1.7, .5, .3, 1.7, .6, .2, .3, 1.2, 1.5, .8, .6, .9, .7, .4]
PRECIP_P08 = [.8, 1.7, 2.7, 6.4, .1, 0, 0, 0, 0, 0, 0, 2.0, .5, 1.2, 1.8, 1.6, 2.9,
              2.4, 2.2, 1.0, .4, .2, .1, .1, .2, .3, .2, .1, 0, .2, .1, .3, .4, .5, .7, .6, .2, 0, .4, .2, 1.0, 5.7, 2.1, .6,
              .4, .3, .2, .5, .9, 2.5, 1.3, .7, .3, .2, .8, .4, .1, .5, 2.0, 4.4, 1.6, .5, 1.0, 4.7, 1.2]
PRECIP_P09 = [.9, 1.9, 2.9, 5.8, .2, 0, 0, 0, 0, 0, 0, 1.4, .3, .5, 1.1, 1.3, .7,
              .6, .8, .5, .2, .1, .1, .2, .1, .3, .1, .2, .3, 2.4, 1.4, .6, .3, .4, .4, .3, .4, .5, .3, .2, .1, .4, .5, .2,
              .6, .8, .3, 3.8, 1.6, 2.2, .8, .4, .3, .2, 1.2, .3, .2, .6, .7, 1.2, .5, .4, .6, .6, .3]
PRECIP_P10 = [1.1, 2.3, 3.3, 7.0, .2, 0, 0, 0, 0, 0, 0, 1.3, .2, .2, 1.9, 1.2, 1.0,
              1.6, 1.0, .7, .1, .2, .1, .1, .2, .1, .2, .2, .1, .3, .1, .2, .4, .5, .5, .3, .2, .1, .4, .2, .3, .4, .6, .3,
              .2, 1.5, 3.3, 1.0, .7, 1.2, .6, .4, .2, .2, .7, .3, .1, .3, .6, 1.8, .7, .5, 1.3, 1.0, .4]
PRECIP_P11 = [1.8, 3.5, 3.7, 4.4, .3, 0, 0, 0, 0, 0, 0, 1.6, .3, .2, 1.3, 1.5, .4,
              .6, .5, .4, .2, .1, .3, .2, 3.3, 1.7, .7, .3, .2, .4, .1, .2, .3, .6, .5, 4.3, 1.0, .4, .3, .2, .4, 4.0, 9.3, 2.1,
              .5, .4, .2, .4, .6, .8, .5, .3, .2, .3, 1.0, .4, .2, .3, 1.6, 3.2, .9, .6, .9, .6, .4]
PRECIP_P12 = [.8, 1.6, 2.4, 5.4, .2, 0, 0, 0, 0, 0, 0, 2.2, .2, .5, 1.6, 2.9, 1.1,
              .8, .7, .5, 0, .1, .2, .1, .1, .2, .1, .3, .1, .2, .3, .1, .5, .3, .6, .4, .2, .3, .4, .2, .1, .3, .5, .6,
              .4, .3, .5, .6, 1.1, 2.8, 1.9, .5, .3, .2, .8, .2, .1, .4, 1.0, 4.9, 2.9, .9, 1.2, 1.0, .4]
PRECIP_P13 = [1.0, 2.0, 3.0, 6.2, .1, 0, 0, 0, 0, 0, 0, 1.7, .2, .3, 1.2, 1.0, .7,
              1.0, .9, .5, .1, 0, .1, .2, .6, .4, .2, .1, .2, .1, .2, .3, .4, .7, 1.4, .9, .3, .2, .4, .3, .2, .5, .4, .3,
              .2, .2, .4, .3, .5, .7, .6, .3, .1, .3, .6, .2, .2, .5, .9, 1.2, .6, .4, .7, .5, .3]
PRECIP_P14 = [.3, 1.4, 2.3, 4.2, .2, 0, 0, 0, 0, 0, 0, 1.2, .2, .6, 2.0, .8, .6,
              .8, 1.0, .4, 0, .1, .2, .1, .1, .2, .1, .1, .2, .1, .1, .1, .3, .2, .8, .4, .2, .1, .7, .5, .3, .9, .7, .4,
              .5, 1.1, .8, .4, .2, .6, .7, .3, .2, .2, .5, .2, .1, .2, .4, .9, .4, .4, 1.1, .7, .3]
PRECIP_P15 = [.9, 1.8, 2.6, 6.0, .2, 0, 0, 0, 0, 0, 0, 2.1, .2, .4, 1.3, 1.1, .9,
              1.1, .8, .6, .1, .2, .2, .5, .7, .6, .4, .5, .3, .2, .3, .2, .5, .4, 1.2, .6, .3, .2, .5, .4, .3, .7, .6, .5,
              .4, .3, .6, .8, .7, 1.7, .6, .3, .2, .1, .6, .3, .2, .4, .7, .9, .5, .6, .9, .6, .3]
PRECIP_P16 = [1.3, 2.5, 3.8, 7.8, .2, 0, 0, 0, 0, 0, 0, 2.7, .4, .4, 1.2, 1.3, .6,
              .7, .8, .5, .2, .1, .1, .2, .1, .2, .1, .1, .2, .3, .1, .2, .4, .6, .5, .4, .1, .2, .4, .3, .3, .6, .5, .7,
              .4, .3, .5, .4, .5, 1.0, .9, .6, .2, .2, .9, .4, .2, .6, 1.5, 1.4, .9, 2.8, 2.4, 1.5, .7]
PRECIP_P17 = [1.0, 2.0, 3.1, 6.9, .3, 0, 0, 0, 0, 0, 0, 2.3, .3, .5, 1.4, 1.2, .8,
              .9, .8, .6, .1, .2, .1, .1, .2, .2, .1, .2, .1, .1, .2, .2, .8, .6, .7, .5, .2, .3, .5, .4, .3, .7, .8, .5,
              .4, .5, .3, .6, 1.1, 1.6, 1.0, 2.0, .6, .2, .9, .3, 1.2, 2.1, 1.4, 1.2, .8, 3.5, 3.0, 1.6, .6]
PRECIP_P18 = [1.1, 2.1, 3.3, 8.6, .3, 0, 0, 0, 0, 0, 0, 3.6, .3, .6, 1.6, 1.3, .9,
              .9, 2.0, 1.9, .6, .3, .2, .2, .1, .2, 1.3, .7, .3, .2, .4, .3, .6, .5, 1.0, .6, .4, .2, .5, .7, .4, .6, 1.0, .7,
              1.7, 1.0, .5, .6, 1.2, 3.0, 1.1, .5, .3, .4, 1.9, .8, .3, .5, 1.0, 1.9, .9, .7, 1.2, 1.0, .4]
PRECIP_P19 = [1.4, 2.6, 3.4, 9.4, .2, 0, 0, 0, 0, 0, 0, 2.6, .2, .3, 1.2, 1.1, .5,
              .6, .7, .3, .1, .1, .2, .1, .2, .1, .2, .1, .1, .2, .1, .3, .4, .3, .9, .5, .2, .1, .3, .4, .2, .5, .7, .3,
              .4, .2, .4, .3, .5, .9, .6, .4, .1, .2, .7, .2, .1, .3, .8, 1.1, .5, .6, .8, .5, .2]
PRECIP_P20 = [1.3, 2.8, 4.0, 10.5, .3, 0, 0, 0, 0, 0, 0, 3.0, .3, .7, 1.7, 1.5, 1.0,
              1.1, 2.1, .9, .2, .1, .2, .1, .1, .2, .1, .1, .2, .1, .2, .2, .6, .4, 1.2, .7, .3, .2, .6, .5, .2, .6, 1.7, 9.0,
              2.1, .4, .2, .3, .5, 2.0, 1.2, .7, .3, .2, 3.0, 1.0, .2, .4, 1.2, 2.2, 1.0, 2.6, 4.0, 2.2, .5]

T850_MEMBERS = [T850_P01, T850_P02, T850_P03, T850_P04, T850_P05, T850_P06, T850_P07, T850_P08, T850_P09, T850_P10,
                T850_P11, T850_P12, T850_P13, T850_P14, T850_P15, T850_P16, T850_P17, T850_P18, T850_P19, T850_P20]
T500_MEMBERS = [T500_P01, T500_P02, T500_P03, T500_P04, T500_P05, T500_P06, T500_P07, T500_P08, T500_P09, T500_P10,
                T500_P11, T500_P12, T500_P13, T500_P14, T500_P15, T500_P16, T500_P17, T500_P18, T500_P19, T500_P20]
PRECIP_MEMBERS = [PRECIP_P01, PRECIP_P02, PRECIP_P03, PRECIP_P04, PRECIP_P05, PRECIP_P06, PRECIP_P07, PRECIP_P08,
                  PRECIP_P09, PRECIP_P10, PRECIP_P11, PRECIP_P12, PRECIP_P13, PRECIP_P14, PRECIP_P15, PRECIP_P16,
                  PRECIP_P17, PRECIP_P18, PRECIP_P19, PRECIP_P20]

PANEL_OFFSET = 45  # right axis reads left + 45 (mm and T500 share it)
PX_PER_UNIT = 7
W, H = 740, 700
ML, MR, MT, MB = 50, 50, 0, 100
top_val = (230.5 - MT) / PX_PER_UNIT
bot_val = (230.5 - (H - MB)) / PX_PER_UNIT
nudge = 1.5 / PX_PER_UNIT  # tick labels sit a little under their grid line

fig = go.Figure()


def add_member(y, color):
    fig.add_trace(go.Scatter(x=HOURS, y=y, mode="lines+markers", hoverinfo="skip", showlegend=False,
                             line=dict(color=color, width=1), marker=dict(color=color, size=3.5, symbol="diamond")))


def add_thick(y, color, width):
    fig.add_trace(go.Scatter(x=HOURS, y=y, mode="lines", hoverinfo="skip", showlegend=False,
                             line=dict(color=color, width=width)))


for members in (T850_MEMBERS, T500_MEMBERS):
    for series, color in zip(members, MEMBER_COLORS):
        add_member(series, color)
for series, color in zip(PRECIP_MEMBERS, MEMBER_COLORS):
    add_member([v - PANEL_OFFSET for v in series], color)

for series in (T850_GFS, T500_GFS):
    add_thick(series, "#000000", 3)
add_thick([v - PANEL_OFFSET for v in PRECIP_GFS], "#000000", 3)
for series in (T850_CTRL, T500_CTRL):
    add_thick(series, "#0000ff", 3)
add_thick([v - PANEL_OFFSET for v in PRECIP_CTRL], "#0000ff", 3)
for series in (T850_MEAN, T500_MEAN):
    add_thick(series, "#ff0000", 4)
add_thick([v - PANEL_OFFSET for v in PRECIP_MEAN], "#ff0000", 4)

# empty traces so the label axes exist
fig.add_trace(go.Scatter(x=[0], y=[0], yaxis="y2", mode="markers", marker=dict(opacity=0), hoverinfo="skip"))
fig.add_trace(go.Scatter(x=[0], y=[0], yaxis="y3", mode="markers", marker=dict(opacity=0), hoverinfo="skip"))

shapes = []
for v in LEFT_TICKS:
    if v == 0:
        line = dict(color="#808080", width=3)
    else:
        line = dict(color="#c0c0c0", width=2 if v % 10 == 0 else 1)
    shapes.append(dict(type="line", xref="x", yref="y", x0=0, x1=384, y0=v, y1=v, layer="below", line=line))


def px_rect(x0, y0, x1, y1, fill=None, line=None):
    shapes.append(dict(type="rect", xref="paper", yref="paper", x0=(x0 - ML) / (W - ML - MR),
                       x1=(x1 - ML) / (W - ML - MR), y0=1 - y0 / (H - MB), y1=1 - y1 / (H - MB),
                       fillcolor=fill, line=line or dict(width=0)))


px_rect(35, 630, 66, 633, fill="#ff0000")
px_rect(225, 635, 256, 639, fill="#0000ff")
px_rect(225, 645, 256, 649, fill="#000000")
px_rect(20.5, 667.5, 440.5, 698.5, line=dict(color="#000000", width=1))
for i, color in enumerate(MEMBER_COLORS):
    px_rect(470 + i * 11, 650, 480 + i * 11, 656, fill=color)

fig.update_layout(
    width=W, height=H, margin=dict(l=ML, r=MR, t=MT, b=MB, pad=0), showlegend=False,
    plot_bgcolor="#ffffff", paper_bgcolor="#ffffff",
    font=dict(family="DejaVu Sans Mono", size=10, color="#000000"),
    shapes=shapes,
    xaxis=dict(range=[0, 384], tickvals=HOURS[::4], showticklabels=False, showgrid=True, gridcolor="#c0c0c0",
               gridwidth=1, zeroline=False, showline=True, linecolor="#000000", linewidth=1, ticks=""),
    yaxis=dict(range=[bot_val, top_val], showticklabels=False, showgrid=False, zeroline=False, ticks=""),
    yaxis2=dict(range=[bot_val + nudge, top_val + nudge], overlaying="y", side="left", tickvals=LEFT_TICKS,
                ticktext=[f"{v:<3}".replace(" ", "\u00a0") for v in LEFT_TICKS], showgrid=False, zeroline=False,
                ticks="", ticklabelstandoff=11),
    yaxis3=dict(range=[bot_val + nudge, top_val + nudge], overlaying="y", side="right",
                tickvals=[v - PANEL_OFFSET for v in RIGHT_TICKS], ticktext=[str(v) for v in RIGHT_TICKS],
                showgrid=False, zeroline=False, ticks="", ticklabelstandoff=19),
)


def px_text(x, y, text, bold=False, size=10, color="#000000", family="DejaVu Sans Mono"):
    fig.add_annotation(x=(x - ML) / (W - ML - MR), y=1 - y / (H - MB), xref="paper", yref="paper",
                       text=f"<b>{text}</b>" if bold else text, showarrow=False, xanchor="left",
                       yanchor="middle", borderpad=0, font=dict(family=family, size=size, color=color))


px_text(60, 103, "Temp. 850hPa")
px_text(60, 289, "Temp. 500hPa")
px_text(59, 463, "Précipitations")
px_text(20, 607, "(°C)")
px_text(710, 607, "(mm)")
px_text(74, 637, "Moyenne des scénarios")
px_text(264, 637, "Run de contrôle")
px_text(264, 647, "Run GFS")
px_text(54, 658, "\u2744", size=14, color="#5aaee0", family="DejaVu Sans")
px_text(74, 659, "Risque neige")
px_text(369, 652, "20 Perturbations")
px_text(30, 677, "Diagramme des ensembles GEFS sur 384h : 52.1N 5.2E", bold=True, size=11.6)
px_text(30, 692, "Températures 850hPa et 500hPa (°C) , précipitations (mm)")
px_text(449, 672, "Ensemble GEFS du 05/07/2015 - 00Z")
px_text(449, 692, "Copyright 2015 Meteociel.fr", bold=True, size=11.6)
for i, member in enumerate(MEMBER_IDS):
    px_text(470 + i * 11, 644, member, size=8)
for hour, label in zip(HOURS[::4], DATE_LABELS):
    fig.add_annotation(x=hour, y=1 - 616.5 / (H - MB), xref="x", yref="paper", text=label, showarrow=False,
                       textangle=-90, xshift=6, yanchor="middle", borderpad=0)

fig.write_html("out.html", config=dict(displayModeBar=False), post_script="document.body.style.margin='0';")
